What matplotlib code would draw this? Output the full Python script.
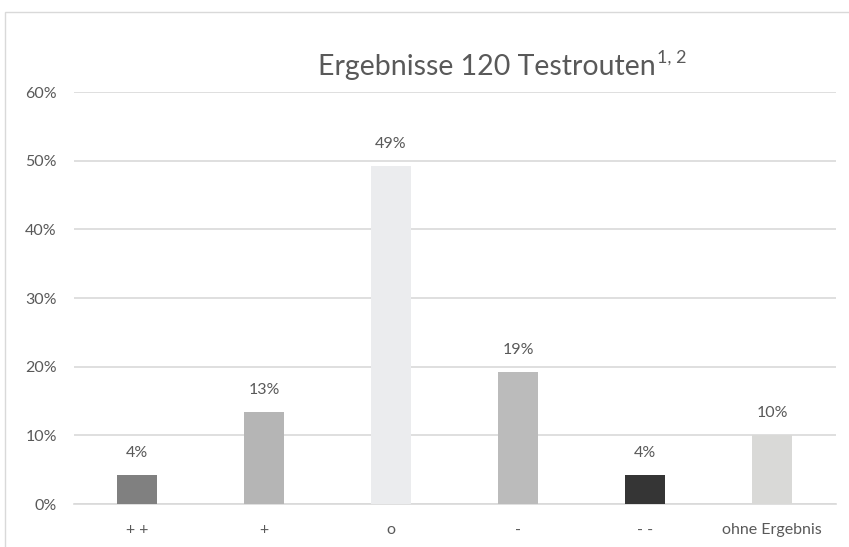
import matplotlib
matplotlib.use('Agg')
import matplotlib.pyplot as plt
from matplotlib.patches import Rectangle
from matplotlib.ticker import FuncFormatter

categories = ['+ +', '+', 'o', '-', '- -', 'ohne Ergebnis']
values = [4.17, 13.33, 49.17, 19.17, 4.17, 10.0]
labels = ['4%', '13%', '49%', '19%', '4%', '10%']
colors = ['#808080', '#b5b5b5', '#ebecee', '#bbbbbb', '#353535', '#d9d9d7']

plt.rcParams['font.family'] = ['Lato', 'DejaVu Sans']
text_color = '#595959'
grid_color = '#d9d9d9'

fig = plt.figure(figsize=(8.49, 5.47), dpi=100)
ax = fig.add_axes([73.5 / 849, 1 - 504 / 547, 762 / 849, 412 / 547])

# chart area border
fig.patches.append(Rectangle((5 / 849, -0.01), 1.0, 1 - 12 / 547 + 0.01,
                             transform=fig.transFigure, fill=False,
                             edgecolor=grid_color, linewidth=1))

x = range(len(categories))
ax.bar(x, values, width=0.315, color=colors, zorder=3)
for xi, v, lab in zip(x, values, labels):
    ax.annotate(lab, (xi, v), xytext=(0, 11), textcoords='offset points',
                ha='center', va='bottom', fontsize=11.5, color=text_color)

ax.set_xlim(-0.5, len(categories) - 0.5)
ax.set_ylim(0, 60)
ax.set_yticks(range(0, 61, 10))
ax.yaxis.set_major_formatter(FuncFormatter(lambda v, p: f'{int(v)}%'))
ax.set_xticks(list(x))
ax.set_xticklabels(categories)
ax.tick_params(axis='both', length=0, labelsize=11.5, colors=text_color)
ax.tick_params(axis='y', pad=12)
ax.tick_params(axis='x', pad=14)
ax.grid(axis='y', color=grid_color, linewidth=1.2, zorder=0)
for s in ['top', 'right', 'left']:
    ax.spines[s].set_visible(False)
ax.spines['bottom'].set_color(grid_color)
ax.spines['bottom'].set_linewidth(1.2)

# title with superscript
title = fig.text(318 / 849, 1 - 67 / 547, 'Ergebnisse 120 Testrouten',
                 fontsize=20.5, color=text_color, ha='left', va='center')
fig.canvas.draw()
bb = title.get_window_extent()
fig.text(bb.x1 / 849 + 0.001, 1 - 58 / 547, '1, 2', fontsize=13,
         color=text_color, ha='left', va='center')

fig.savefig('out.png', dpi=100)
